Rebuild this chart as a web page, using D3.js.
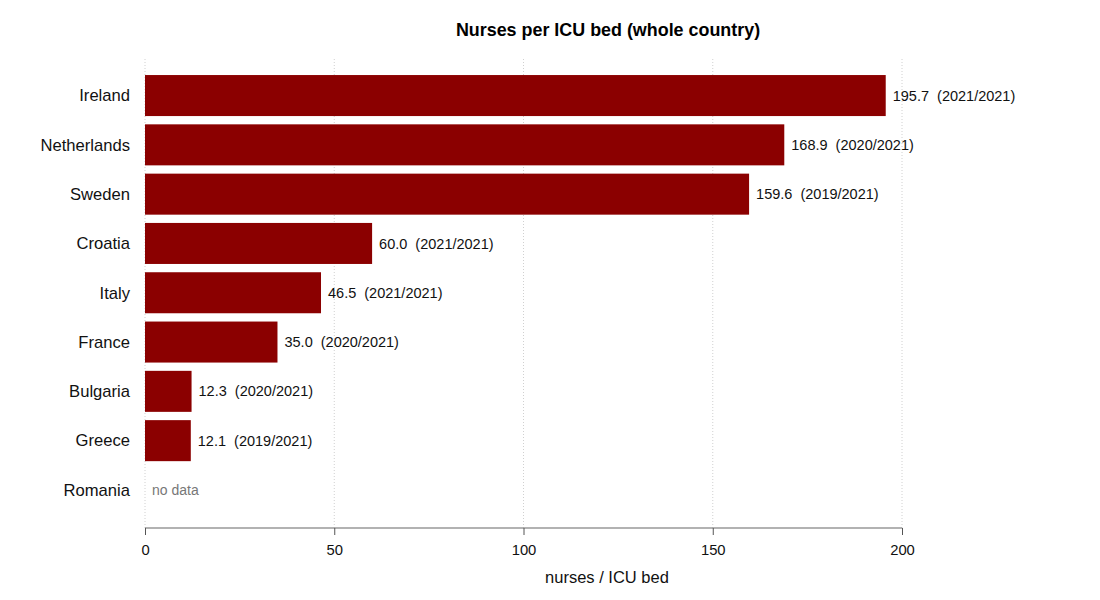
<!DOCTYPE html>
<html><head><meta charset="utf-8">
<script src="https://cdn.jsdelivr.net/npm/d3@7"></script>
<style>body{margin:0;background:#fff;} text{font-family:"Liberation Sans",Arial,sans-serif;}</style>
</head><body>
<svg id="chart" width="1100" height="600"></svg>
<script>
const countries = ["Ireland","Netherlands","Sweden","Croatia","Italy","France","Bulgaria","Greece","Romania"];
const values = [195.7,168.9,159.6,60.0,46.5,35.0,12.3,12.1,null];
const years = ["2021/2021","2020/2021","2019/2021","2021/2021","2021/2021","2020/2021","2020/2021","2019/2021",null];
const xTicks = [0,50,100,150,200];

const svg = d3.select("#chart");
const x = d3.scaleLinear().domain([0,200]).range([145,902]);
const y = d3.scaleBand().domain(countries).range([70.9,514.6]).paddingInner(0.168).paddingOuter(0.084);

// grid
svg.append("g").selectAll("line").data(xTicks).join("line")
  .attr("x1",d=>x(d)).attr("x2",d=>x(d)).attr("y1",59).attr("y2",528)
  .attr("stroke","#d0d0d0").attr("stroke-width",1).attr("stroke-dasharray","1,2");

// bars
const data = countries.map((c,i)=>({c,v:values[i],yr:years[i]}));
svg.append("g").selectAll("rect").data(data.filter(d=>d.v!=null)).join("rect")
  .attr("x",x(0)).attr("y",d=>y(d.c)).attr("width",d=>x(d.v)-x(0)).attr("height",y.bandwidth())
  .attr("fill","#8b0000");

// value labels
svg.append("g").selectAll("text").data(data).join("text")
  .attr("x",d=>d.v!=null ? x(d.v)+7 : x(0)+7)
  .attr("y",d=>y(d.c)+y.bandwidth()/2)
  .attr("dy","0.35em")
  .attr("font-size",d=>d.v!=null?"14.5px":"14px")
  .attr("fill",d=>d.v!=null?"#111":"#777")
  .style("white-space","pre")
  .text(d=>d.v!=null ? d.v.toFixed(1)+"  ("+d.yr+")" : "no data");

// y labels
svg.append("g").selectAll("text").data(countries).join("text")
  .attr("x",130).attr("y",d=>y(d)+y.bandwidth()/2).attr("dy","0.35em")
  .attr("text-anchor","end").attr("font-size","16.6px").attr("fill","#111")
  .text(d=>d);

// x axis
const ax = svg.append("g").attr("transform","translate(0,528)")
  .call(d3.axisBottom(x).tickValues(xTicks).tickSize(7).tickPadding(9).tickFormat(d3.format("d")));
ax.select(".domain").attr("stroke","#999").attr("stroke-width",1.5).attr("d","M"+x(0)+",0H"+x(200));
ax.selectAll(".tick line").attr("stroke","#555");
ax.selectAll(".tick text").attr("font-size","14.8px").attr("fill","#111").attr("font-family","Liberation Sans, Arial, sans-serif");

svg.append("text").attr("x",607).attr("y",582.5).attr("text-anchor","middle")
  .attr("font-size","16.5px").attr("fill","#111").text("nurses / ICU bed");

svg.append("text").attr("x",608).attr("y",36).attr("text-anchor","middle")
  .attr("font-size","17.9px").attr("font-weight","bold").attr("fill","#000")
  .text("Nurses per ICU bed (whole country)");
</script>
</body></html>
